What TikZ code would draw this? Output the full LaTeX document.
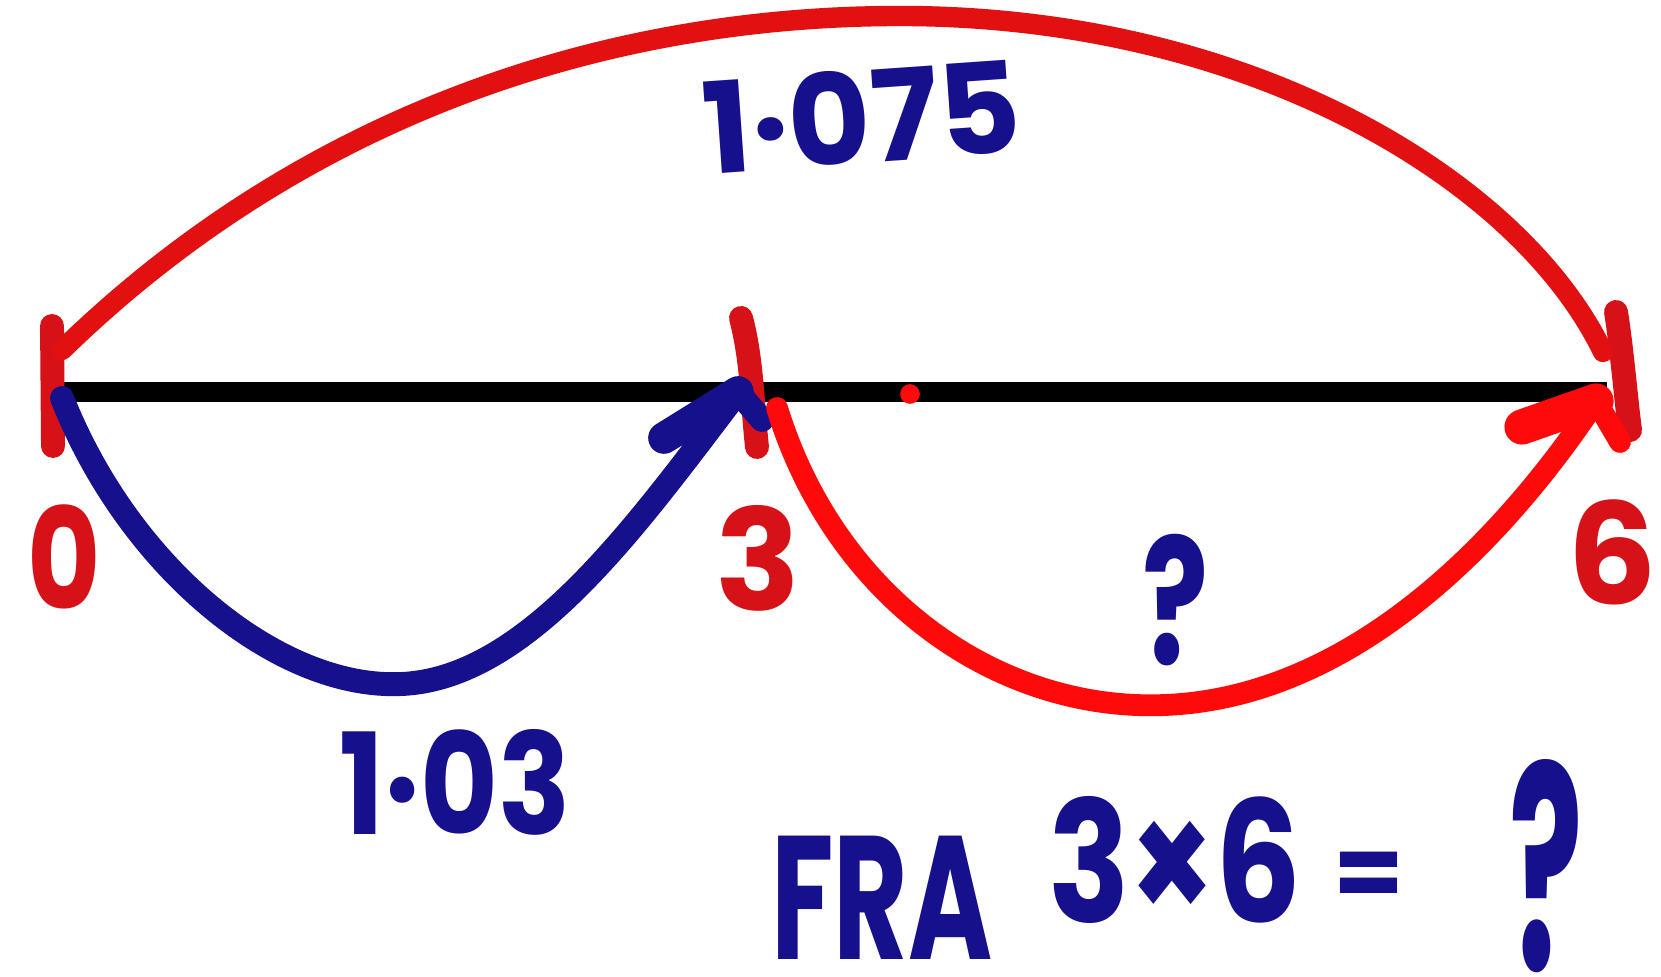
\documentclass[tikz,border=0pt]{standalone}
\usepackage{fontspec}
\setmainfont{Poppins}
\newfontfamily\fsFRA[FakeStretch=0.65]{Poppins}
\newfontfamily\fsEight[FakeStretch=0.8]{Poppins}
\newfontfamily\fsOne[FakeStretch=0.85]{Poppins}
\newfontfamily\fsSeven[FakeStretch=0.7]{Poppins}
\newfontfamily\fsTall[FakeStretch=0.48]{Poppins}
\definecolor{inkblue}{RGB}{22,16,140}
\definecolor{inkred}{RGB}{226,16,16}
\definecolor{inkredb}{RGB}{255,10,10}
\definecolor{inkredlab}{RGB}{214,18,24}
\begin{document}
\begin{tikzpicture}[x={(0.01cm,0)}, y={(0,-0.01cm)}, line cap=round, line join=round,
  numline/.style={line width=5.8pt, black, line cap=butt},
  tickmark/.style={line width=6.8pt, inkredlab},
  bigjump/.style={line width=5.8pt, inkred},
  bluejump/.style={line width=6.8pt, inkblue},
  redjump/.style={line width=6.2pt, inkredb},
  bluetxt/.style={text=inkblue, font=\bfseries\fontsize{36}{40}\selectfont, inner sep=0pt},
  redlab/.style={text=inkredlab, font=\bfseries\fontsize{40}{44}\selectfont, inner sep=0pt},
]
\fill[white] (0,0) rectangle (1661,977);
\useasboundingbox (0,0) rectangle (1661,977);

% points on the number line
\coordinate (P0) at (58,392);
\coordinate (P6) at (1607,392);
\draw[numline] (P0) -- (P6);

% tick marks
\draw[tickmark] (52,326) -- (53,446);
\draw[tickmark] (741,318) .. controls (752,360) and (752,400) .. (757,447);
\draw[tickmark] (1616,312) .. controls (1622,350) and (1626,400) .. (1630,430);

% red dot
\fill[inkredb] (910,394) circle (2.8pt);

% big jump 0 -> 6
\coordinate (bigS) at (62,350);
\coordinate (bigE) at (1603,352);
\draw[bigjump] (bigS) .. controls (300,118) and (600,16) .. (900,16)
  .. controls (1250,16) and (1520,180) .. (bigE);

% blue jump 0 -> 3
\coordinate (blS) at (62,398);
\coordinate (blE) at (738,392);
\draw[bluejump] (blS) .. controls (130,570) and (280,690) .. (402,684)
  .. controls (530,678) and (640,520) .. (blE);
\draw[bluejump, line width=9pt] (664,438) -- (blE);
\draw[bluejump] (blE) -- (762,420);

% red jump 3 -> 6
\coordinate (rdS) at (777,408);
\coordinate (rdE) at (1596,401);
\draw[redjump] (rdS) .. controls (836,600) and (1000,712) .. (1165,705)
  .. controls (1340,698) and (1490,560) .. (rdE);
\draw[redjump, line width=10pt] (1522,427) -- (rdE);
\draw[redjump] (rdE) -- (1620,442);

% labels
\node[redlab, font=\fsEight\bfseries\fontsize{40}{44}\selectfont] (l0) at (64,557) {0};
\node[redlab] (l3) at (758,558) {3};
\node[redlab] (l6) at (1612,552) {6};

\node[bluetxt, rotate=4] (t1075) at (862,116) {1·075};
\node[bluetxt, font=\fsOne\bfseries\fontsize{40}{44}\selectfont] (t103) at (455,782) {1·03};
\node[bluetxt, font=\fsSeven\bfseries\fontsize{50}{54}\selectfont] (qmid) at (1176,600) {?};

\node[bluetxt, font=\fsFRA\bfseries\fontsize{50}{54}\selectfont] (fra) at (882,898) {FRA};
\node[bluetxt, font=\fsEight\bfseries\fontsize{48}{52}\selectfont] (prod) at (1175,860) {3×6};
\node[bluetxt, font=\bfseries\fontsize{29}{32}\selectfont] (eq) at (1369,880) {=};
\node[bluetxt, font=\fsTall\bfseries\fontsize{81}{86}\selectfont] (qend) at (1546,866) {?};
\end{tikzpicture}
\end{document}
